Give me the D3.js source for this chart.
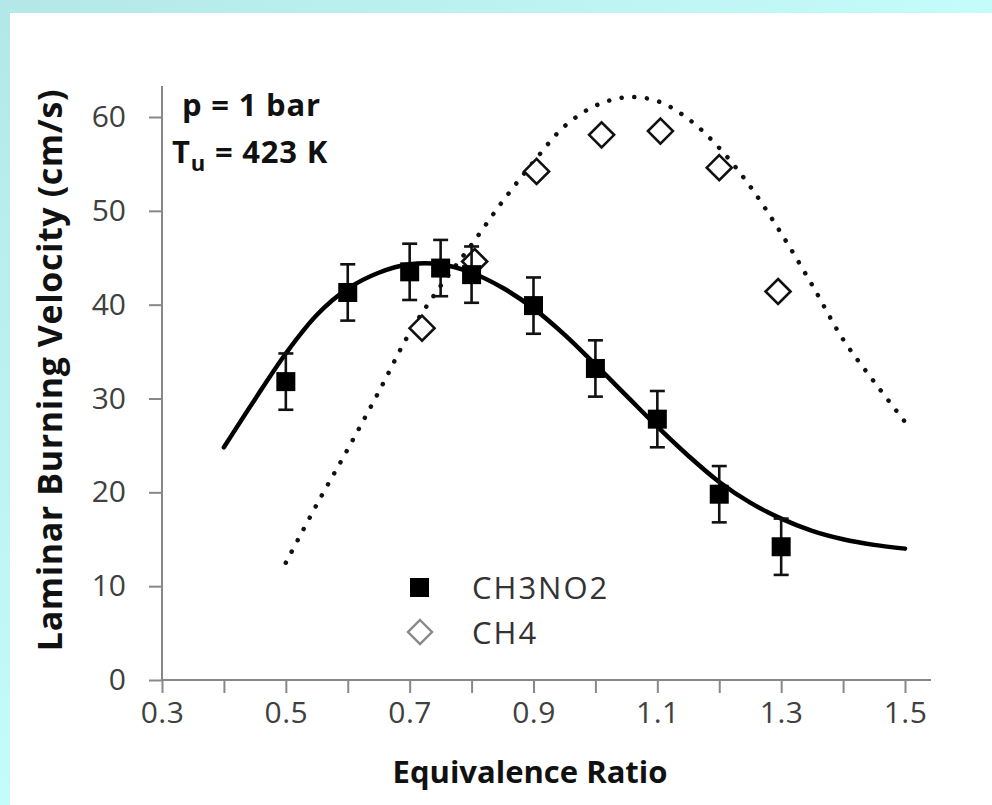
<!DOCTYPE html>
<html>
<head>
<meta charset="utf-8">
<script src="https://cdn.jsdelivr.net/npm/d3@7"></script>
<style>
  html, body { margin: 0; padding: 0; background: #fff; }
  svg { display: block; }
  text { font-family: "Open Sans", "DejaVu Sans", sans-serif; }
</style>
</head>
<body>
<div id="chart"></div>
<script>
// CH3NO2 measurements (squares with error bars)
const ch3no2Phi = [0.5, 0.6, 0.7, 0.75, 0.8, 0.9, 1.0, 1.1, 1.2, 1.3];
const ch3no2Su = [31.8, 41.3, 43.5, 43.9, 43.2, 39.9, 33.2, 27.8, 19.8, 14.2];
const ch3no2Err = [3, 3, 3, 3, 3, 3, 3, 3, 3, 3];

// CH4 measurements (open diamonds)
const ch4Phi = [0.72, 0.805, 0.905, 1.01, 1.105, 1.2, 1.295];
const ch4Su = [37.5, 44.6, 54.2, 58.1, 58.5, 54.6, 41.4];

// CH3NO2 model (solid line)
const fitPhi = [0.4, 0.45, 0.5, 0.55, 0.6, 0.65, 0.7, 0.75, 0.8, 0.85, 0.9, 0.95,
  1.0, 1.05, 1.1, 1.15, 1.2, 1.25, 1.3, 1.35, 1.4, 1.45, 1.5];
const fitSu = [24.8, 29.9, 34.8, 38.9, 41.7, 43.4, 44.3, 44.3, 43.4, 41.8, 39.6, 36.8,
  33.6, 30.3, 27.0, 23.9, 21.1, 18.9, 17.2, 15.9, 15.0, 14.4, 14.0];

// CH4 model (dotted line)
const ch4ModelPhi = [0.5, 0.55, 0.6, 0.65, 0.7, 0.75, 0.8, 0.85, 0.9, 0.95,
  1.0, 1.05, 1.1, 1.15, 1.2, 1.25, 1.3, 1.35, 1.4, 1.45, 1.5];
const ch4ModelSu = [12.5, 18.7, 24.6, 30.7, 37.0, 42.0, 46.4, 51.0, 55.2, 59.0,
  61.2, 62.1, 61.7, 59.8, 56.7, 52.6, 47.6, 42.1, 36.3, 31.8, 27.5];

const xTicks = [0.3, 0.4, 0.5, 0.6, 0.7, 0.8, 0.9, 1.0, 1.1, 1.2, 1.3, 1.4, 1.5];
const xTickLabels = ["0.3", "0.5", "0.7", "0.9", "1.1", "1.3", "1.5"];
const yTicks = [0, 10, 20, 30, 40, 50, 60];

const width = 992, height = 805;
const svg = d3.select("#chart").append("svg")
  .attr("width", width)
  .attr("height", height);

// slide-style cyan frame
const grad = svg.append("defs").append("linearGradient")
  .attr("id", "bg").attr("x1", "0").attr("y1", "0").attr("x2", "1").attr("y2", "1");
grad.append("stop").attr("offset", "0").attr("stop-color", "#b4e8e8");
grad.append("stop").attr("offset", "0.5").attr("stop-color", "#c4fbfb");
grad.append("stop").attr("offset", "1").attr("stop-color", "#c8ffff");
svg.append("rect").attr("width", width).attr("height", height).attr("fill", "url(#bg)");
svg.append("rect").attr("x", 10).attr("y", 13)
  .attr("width", width - 10).attr("height", height - 13).attr("fill", "#fff");

const x = d3.scaleLinear().domain([0.3, 1.5]).range([162, 905]);
const y = d3.scaleLinear().domain([0, 60]).range([680, 117]);

const axisColor = "#888";
const labelColor = "#404040";

// x axis
const gx = svg.append("g").attr("transform", `translate(0,${y(0)})`)
  .call(d3.axisBottom(x).tickValues(xTicks).tickSize(13).tickSizeOuter(0)
    .tickFormat(d => xTickLabels.includes(d3.format(".1f")(d)) ? d3.format(".1f")(d) : ""));
gx.select(".domain").remove();
gx.selectAll(".tick line").attr("stroke", axisColor).attr("stroke-width", 2);
gx.selectAll(".tick text").attr("fill", labelColor).attr("dy", "0.9em")
  .style("font-size", "30px").style("letter-spacing", "0.5px");
gx.append("line").attr("x1", x(0.3)).attr("x2", x(1.542))
  .attr("stroke", axisColor).attr("stroke-width", 2);

// y axis
const gy = svg.append("g").attr("transform", `translate(${x(0.3)},0)`)
  .call(d3.axisLeft(y).tickValues(yTicks).tickSize(13).tickSizeOuter(0).tickPadding(23));
gy.select(".domain").remove();
gy.selectAll(".tick line").attr("stroke", axisColor).attr("stroke-width", 2);
gy.selectAll(".tick text").attr("fill", labelColor).style("font-size", "30px");
gy.append("line").attr("y1", y(0)).attr("y2", y(63.3))
  .attr("stroke", axisColor).attr("stroke-width", 2);

// axis titles
svg.append("text")
  .attr("x", 530).attr("y", 783)
  .attr("text-anchor", "middle")
  .style("font-size", "31px").style("font-weight", "bold").attr("fill", "#111")
  .text("Equivalence Ratio");
svg.append("text")
  .attr("transform", "translate(62,370) rotate(-90)")
  .attr("text-anchor", "middle")
  .style("font-size", "34px").style("font-weight", "bold").attr("fill", "#111")
  .style("letter-spacing", "0.6px")
  .text("Laminar Burning Velocity (cm/s)");

// conditions
svg.append("text").attr("x", 182).attr("y", 116)
  .style("font-size", "31px").style("font-weight", "bold").attr("fill", "#111")
  .style("letter-spacing", "0.8px")
  .text("p = 1 bar");
const tu = svg.append("text").attr("x", 172).attr("y", 163)
  .style("font-size", "31px").style("font-weight", "bold").attr("fill", "#111")
  .style("letter-spacing", "0.8px");
tu.append("tspan").text("T");
tu.append("tspan").attr("dy", 8).style("font-size", "22px").text("u");
tu.append("tspan").attr("dy", -8).text(" = 423 K");

// model curves
const line = d3.line().x(d => x(d[0])).y(d => y(d[1])).curve(d3.curveCatmullRom);

svg.append("path")
  .datum(d3.zip(ch4ModelPhi, ch4ModelSu))
  .attr("d", line)
  .attr("fill", "none").attr("stroke", "#111")
  .attr("stroke-width", 4.5).attr("stroke-linecap", "round")
  .attr("stroke-dasharray", "0.1 12.6");

svg.append("path")
  .datum(d3.zip(fitPhi, fitSu))
  .attr("d", line)
  .attr("fill", "none").attr("stroke", "#000")
  .attr("stroke-width", 4.5).attr("stroke-linecap", "round");

// CH4 diamonds
const diamond = s => `M0,${-s}L${s},0L0,${s}L${-s},0Z`;
svg.append("g").selectAll("path")
  .data(d3.zip(ch4Phi, ch4Su))
  .join("path")
  .attr("transform", d => `translate(${x(d[0])},${y(d[1])})`)
  .attr("d", diamond(12.5))
  .attr("fill", "#fff").attr("stroke", "#111").attr("stroke-width", 2.6);

// CH3NO2 error bars and squares
const pts = ch3no2Phi.map((p, i) => ({ p, v: ch3no2Su[i], e: ch3no2Err[i] }));
const eb = svg.append("g").attr("stroke", "#111").attr("stroke-width", 2.6);
eb.selectAll(".stem").data(pts).join("line")
  .attr("x1", d => x(d.p)).attr("x2", d => x(d.p))
  .attr("y1", d => y(d.v - d.e)).attr("y2", d => y(d.v + d.e));
eb.selectAll(".capTop").data(pts).join("line")
  .attr("x1", d => x(d.p) - 7.5).attr("x2", d => x(d.p) + 7.5)
  .attr("y1", d => y(d.v + d.e)).attr("y2", d => y(d.v + d.e));
eb.selectAll(".capBot").data(pts).join("line")
  .attr("x1", d => x(d.p) - 7.5).attr("x2", d => x(d.p) + 7.5)
  .attr("y1", d => y(d.v - d.e)).attr("y2", d => y(d.v - d.e));
svg.append("g").selectAll("rect").data(pts).join("rect")
  .attr("x", d => x(d.p) - 9.5).attr("y", d => y(d.v) - 9.5)
  .attr("width", 19).attr("height", 19).attr("fill", "#000");

// legend
const legend = svg.append("g");
legend.append("rect").attr("x", 410).attr("y", 578).attr("width", 19).attr("height", 19)
  .attr("fill", "#000");
legend.append("path").attr("transform", "translate(420,632)").attr("d", diamond(12))
  .attr("fill", "#fff").attr("stroke", "#888").attr("stroke-width", 2.4);
legend.append("text").attr("x", 472).attr("y", 599)
  .style("font-size", "31px").style("letter-spacing", "2px").attr("fill", "#333").text("CH3NO2");
legend.append("text").attr("x", 472).attr("y", 644)
  .style("font-size", "31px").style("letter-spacing", "2px").attr("fill", "#333").text("CH4");
</script>
</body>
</html>
